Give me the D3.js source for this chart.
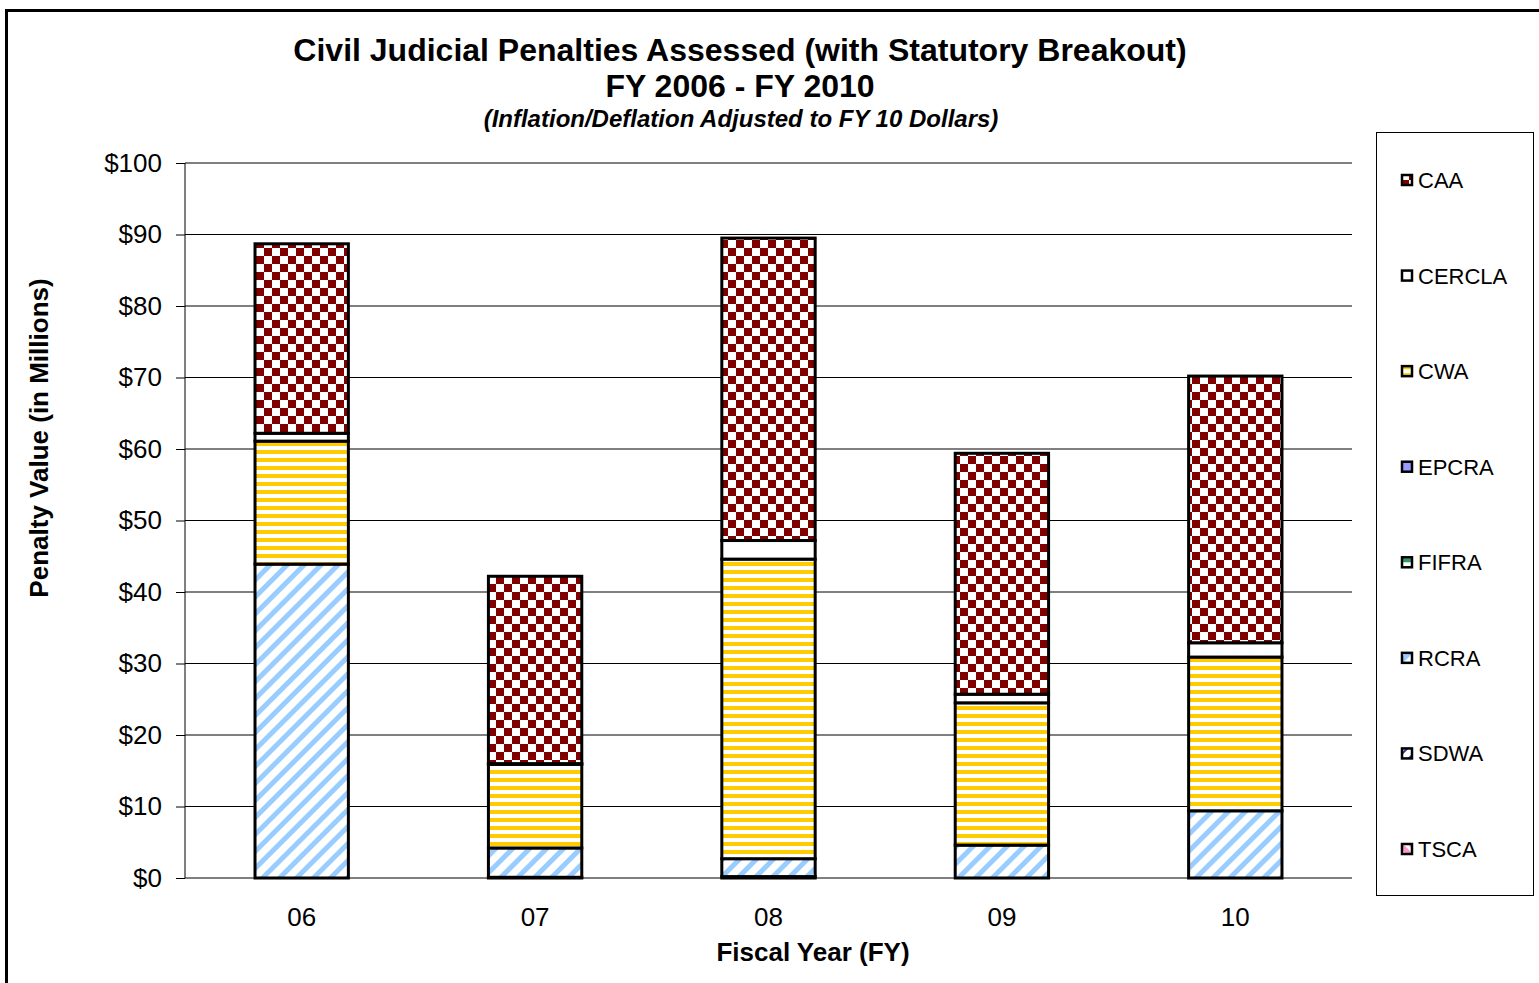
<html>
<head>
    <script src="https://d3js.org/d3.v7.min.js"></script>
    <style>
        body { margin: 0; background: #fff; }
        text { font-family: "Liberation Sans", Arial, sans-serif; }
        .grid line { stroke: #000; stroke-width: 1px; }
        .bar { stroke: #000; stroke-width: 3px; }
    </style>
</head>
<body>
    <script>
        // fiscal years and statutes (stack order bottom -> top)
        var years = ["06", "07", "08", "09", "10"];
        var statutes = ["TSCA", "SDWA", "RCRA", "FIFRA", "EPCRA", "CWA", "CERCLA", "CAA"];
        // values in millions of FY10 dollars
        var TSCA   = [0.0, 0.0, 0.0, 0.0, 0.0];
        var SDWA   = [0.0, 0.1, 0.2, 0.0, 0.0];
        var RCRA   = [43.9, 4.1, 2.5, 4.6, 9.4];
        var FIFRA  = [0.0, 0.0, 0.0, 0.0, 0.0];
        var EPCRA  = [0.0, 0.0, 0.0, 0.0, 0.0];
        var CWA    = [17.2, 11.7, 41.9, 19.9, 21.5];
        var CERCLA = [1.1, 0.1, 2.6, 1.2, 2.0];
        var CAA    = [26.5, 26.2, 42.3, 33.7, 37.3];
        var yTicks = [0, 10, 20, 30, 40, 50, 60, 70, 80, 90, 100];

        var series = { TSCA: TSCA, SDWA: SDWA, RCRA: RCRA, FIFRA: FIFRA, EPCRA: EPCRA, CWA: CWA, CERCLA: CERCLA, CAA: CAA };
        var rows = years.map(function (y, i) {
            var r = { year: y };
            statutes.forEach(function (s) { r[s] = series[s][i]; });
            return r;
        });

        var width = 1539, height = 983;
        var svg = d3.select("body").append("svg")
            .attr("width", width)
            .attr("height", height);

        // fill patterns, Excel style
        var defs = svg.append("defs");
        var p = defs.append("pattern").attr("id", "p-CAA").attr("patternUnits", "userSpaceOnUse")
            .attr("width", 16).attr("height", 16);
        p.append("rect").attr("width", 16).attr("height", 16).attr("fill", "#fff");
        p.append("rect").attr("width", 8).attr("height", 8).attr("fill", "#800000");
        p.append("rect").attr("x", 8).attr("y", 8).attr("width", 8).attr("height", 8).attr("fill", "#800000");

        p = defs.append("pattern").attr("id", "p-CWA").attr("patternUnits", "userSpaceOnUse")
            .attr("width", 8).attr("height", 8);
        p.append("rect").attr("width", 8).attr("height", 8).attr("fill", "#fff");
        p.append("rect").attr("y", 2).attr("width", 8).attr("height", 4).attr("fill", "#ffcc00");

        p = defs.append("pattern").attr("id", "p-RCRA").attr("patternUnits", "userSpaceOnUse")
            .attr("width", 12).attr("height", 12).attr("patternTransform", "rotate(45)");
        p.append("rect").attr("width", 12).attr("height", 12).attr("fill", "#fff");
        p.append("rect").attr("width", 5).attr("height", 12).attr("fill", "#99ccff");

        p = defs.append("pattern").attr("id", "p-SDWA").attr("patternUnits", "userSpaceOnUse")
            .attr("width", 8).attr("height", 8).attr("patternTransform", "rotate(45)");
        p.append("rect").attr("width", 8).attr("height", 8).attr("fill", "#fff");
        p.append("rect").attr("width", 2).attr("height", 8).attr("fill", "#333399");

        p = defs.append("pattern").attr("id", "p-FIFRA").attr("patternUnits", "userSpaceOnUse")
            .attr("width", 8).attr("height", 8);
        p.append("rect").attr("width", 8).attr("height", 8).attr("fill", "#fff");
        p.append("rect").attr("y", 4).attr("width", 8).attr("height", 4).attr("fill", "#339966");

        p = defs.append("pattern").attr("id", "p-TSCA").attr("patternUnits", "userSpaceOnUse")
            .attr("width", 8).attr("height", 8).attr("patternTransform", "rotate(-45)");
        p.append("rect").attr("width", 8).attr("height", 8).attr("fill", "#fff");
        p.append("rect").attr("width", 5).attr("height", 8).attr("fill", "#ff99cc");

        var fills = {
            CAA: "url(#p-CAA)", CERCLA: "#fff", CWA: "url(#p-CWA)", EPCRA: "#9999ff",
            FIFRA: "url(#p-FIFRA)", RCRA: "url(#p-RCRA)", SDWA: "url(#p-SDWA)", TSCA: "url(#p-TSCA)"
        };

        // outer chart border
        svg.append("rect")
            .attr("x", 6.5).attr("y", 10.5)
            .attr("width", 1600).attr("height", 1000)
            .attr("fill", "none").attr("stroke", "#000").attr("stroke-width", 3);

        var margin = { left: 185, right: 1352, top: 163, bottom: 878 };
        var x = d3.scaleBand().domain(years).range([margin.left, margin.right]).paddingInner(0.6).paddingOuter(0.3);
        var y = d3.scaleLinear().domain([0, 100]).range([margin.bottom, margin.top]);

        // gridlines
        svg.append("g").attr("class", "grid")
            .selectAll("line").data(yTicks.slice(1)).enter().append("line")
            .attr("x1", margin.left).attr("x2", margin.right)
            .attr("y1", function (d) { return y(d); }).attr("y2", function (d) { return y(d); });

        // y axis
        var yAxis = svg.append("g")
            .attr("transform", "translate(" + margin.left + ",0)")
            .call(d3.axisLeft(y).tickValues(yTicks).tickSize(9).tickPadding(14)
                .tickFormat(function (d) { return "$" + d; }));
        yAxis.selectAll("text").attr("font-size", 26).attr("fill", "#000")
            .style("font-family", "'Liberation Sans', Arial, sans-serif");
        yAxis.selectAll("line, path").attr("stroke", "#000");
        yAxis.select(".domain").attr("d", "M0," + margin.top + "V" + margin.bottom);

        // stacked bars
        var stack = d3.stack().keys(statutes)(rows);
        svg.append("g").selectAll("g").data(stack).enter().append("g")
            .attr("fill", function (d) { return fills[d.key]; })
            .selectAll("rect").data(function (d) { return d; }).enter().append("rect")
            .attr("class", "bar")
            .attr("x", function (d) { return x(d.data.year); })
            .attr("width", x.bandwidth())
            .attr("y", function (d) { return y(d[1]); })
            .attr("height", function (d) { return Math.max(0, y(d[0]) - y(d[1])); })
            .style("display", function (d) { return d[1] - d[0] > 0 ? null : "none"; });

        // x axis
        var xAxis = svg.append("g")
            .attr("transform", "translate(0," + margin.bottom + ")")
            .call(d3.axisBottom(x).tickSize(0).tickPadding(30));
        xAxis.select(".domain").attr("stroke", "#000").attr("d", "M" + margin.left + ",0H" + margin.right);
        xAxis.selectAll("text").attr("font-size", 26).attr("fill", "#000")
            .style("font-family", "'Liberation Sans', Arial, sans-serif");

        // titles
        svg.append("text").attr("x", 740).attr("y", 61).attr("text-anchor", "middle")
            .attr("font-size", 32).attr("font-weight", "bold")
            .text("Civil Judicial Penalties Assessed (with Statutory Breakout)");
        svg.append("text").attr("x", 740).attr("y", 97).attr("text-anchor", "middle")
            .attr("font-size", 32).attr("font-weight", "bold")
            .text("FY 2006 - FY 2010");
        svg.append("text").attr("x", 741).attr("y", 127).attr("text-anchor", "middle")
            .attr("font-size", 24).attr("font-weight", "bold").attr("font-style", "italic")
            .text("(Inflation/Deflation Adjusted to FY 10 Dollars)");
        svg.append("text").attr("x", 813).attr("y", 961).attr("text-anchor", "middle")
            .attr("font-size", 26).attr("font-weight", "bold")
            .text("Fiscal Year (FY)");
        svg.append("text").attr("transform", "translate(48,438) rotate(-90)").attr("text-anchor", "middle")
            .attr("font-size", 26).attr("font-weight", "bold")
            .text("Penalty Value (in Millions)");

        // legend (top series first)
        var legendKeys = statutes.slice().reverse();
        svg.append("rect").attr("x", 1376.5).attr("y", 132.5).attr("width", 157).attr("height", 763)
            .attr("fill", "#fff").attr("stroke", "#000").attr("stroke-width", 1);
        var ly = d3.scalePoint().domain(legendKeys).range([180, 849]);
        var item = svg.append("g").selectAll("g").data(legendKeys).enter().append("g")
            .attr("transform", function (d) { return "translate(1401," + ly(d) + ")"; });
        item.append("rect").attr("x", 1).attr("y", -5).attr("width", 10).attr("height", 10)
            .attr("fill", function (d) { return fills[d]; })
            .attr("stroke", "#000").attr("stroke-width", 2.5);
        item.append("text").attr("x", 17).attr("y", 8).attr("font-size", 22)
            .text(function (d) { return d; });
    </script>
</body>
</html>
